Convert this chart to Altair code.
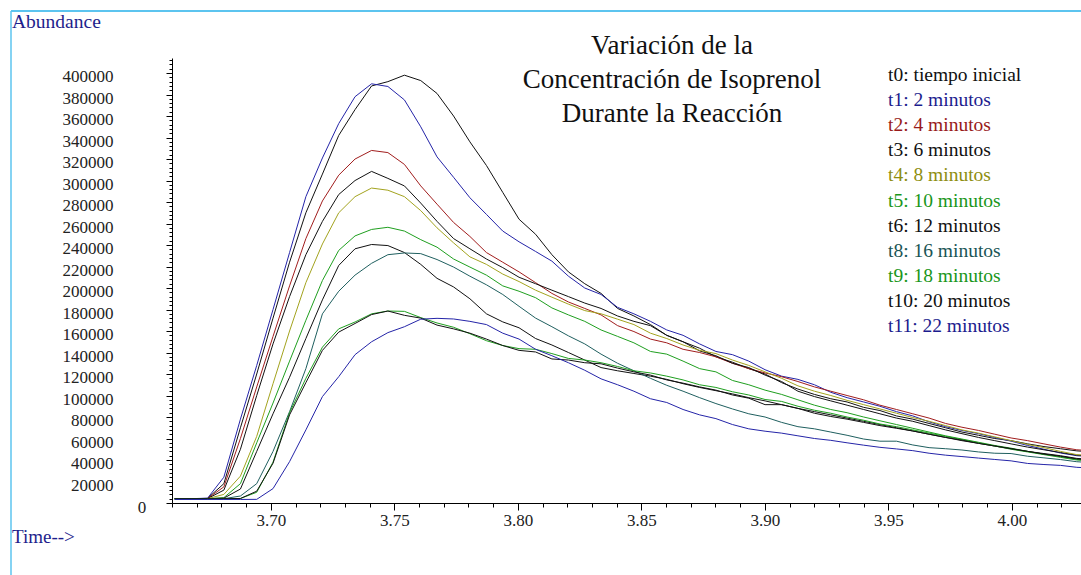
import altair as alt
import pandas as pd

# ---- data (in thousands of abundance units) ----
times = [3.6611, 3.6677, 3.6744, 3.6810, 3.6877, 3.6943, 3.7009, 3.7076, 3.7142, 3.7209,
         3.7275, 3.7341, 3.7408, 3.7474, 3.7541, 3.7607, 3.7673, 3.7740, 3.7806, 3.7873,
         3.7939, 3.8005, 3.8072, 3.8138, 3.8205, 3.8271, 3.8337, 3.8404, 3.8470, 3.8537,
         3.8603, 3.8669, 3.8736, 3.8802, 3.8869, 3.8935, 3.9001, 3.9068, 3.9134, 3.9201,
         3.9267, 3.9333, 3.9400, 3.9466, 3.9533, 3.9599, 3.9665, 3.9732, 3.9798, 3.9865,
         3.9931, 3.9997, 4.0064, 4.0130, 4.0197, 4.0263, 4.0329]

t0 = [4.0, 4.0, 4.3, 18, 70,
      120, 172, 224, 270, 306, 342, 366, 388, 392, 398,
      393, 381, 360, 336, 314, 289, 264, 250, 231, 215,
      204, 195, 181, 174, 166, 156, 150, 144, 136, 131,
      125, 120, 112, 106, 101, 97, 94, 89, 86, 81,
      78, 74, 70, 66, 63, 60, 58, 55, 52.5, 50.5,
      48.5, 47.5]
t1 = [4.0, 4.0, 4.5, 24, 78,
      128, 180, 233, 285, 321, 353, 378, 390, 387.5, 375,
      350, 322, 303, 284, 268.5, 253, 243, 234, 225, 211,
      200, 194, 182, 176, 169, 161, 156, 148, 141, 138,
      132, 124, 118, 115, 110, 103, 98, 94, 90, 85,
      81, 75.5, 71, 67.5, 64.5, 61, 57.5, 53.5, 50, 46.5,
      44, 43]
t2 = [4.0, 4.0, 4.2, 15, 60,
      108, 155, 202, 246, 281, 305, 320, 328, 326, 315,
      295, 278, 261, 248, 233, 224, 215, 205, 195, 187,
      181, 175, 165, 159.5, 152.5, 149, 143, 140, 136, 130,
      125, 121, 117.5, 113, 108, 104, 100, 96, 91, 87,
      83, 79, 74, 70.5, 67.5, 64, 60.5, 58, 55, 52,
      49.5, 48.5]
t3 = [4.0, 4.0, 4.1, 12, 50,
      100, 148, 192, 231, 262, 287, 300, 308.5, 302, 295,
      279, 262, 246, 236.5, 227, 219, 210, 204, 198, 192,
      186, 181, 174, 169, 165, 156, 150, 141.5, 137, 130,
      126, 119, 113, 104, 99, 95, 91, 87, 83, 79,
      76, 72, 68, 64.5, 61, 58, 55, 52, 49.5, 47,
      44.5, 43.5]
t4 = [4.0, 4.0, 4.0, 8, 25,
      62, 111, 160, 205, 241, 270, 285, 293, 291, 285,
      272, 256, 242, 229, 222, 213, 206, 198, 191.5, 185,
      179, 176, 171, 166, 158, 153, 147, 142, 139, 133,
      128, 122, 116, 109, 104, 100, 95.5, 91.5, 87.5, 83.5,
      79.5, 76, 72, 68, 65, 61.5, 58, 54.5, 51.5, 48,
      45, 44]
t5 = [4.0, 4.0, 4.0, 5, 18,
      56, 93, 132, 170, 207, 235, 248.5, 254.5, 256.5, 253,
      245, 238, 227, 219.5, 212, 202, 197, 191, 181.5, 175,
      169, 161, 155, 149, 141, 138.5, 132, 125, 122, 114,
      110, 105, 101, 96, 91, 87, 84, 80, 76.5, 73,
      69.5, 66, 62.5, 59.5, 56.5, 53.5, 51, 48, 45.5, 43,
      40.5, 39.5]
t6 = [4.0, 4.0, 4.0, 4.5, 13,
      48, 83, 117, 153, 189, 221, 236.5, 240.5, 239.5, 233,
      222, 209, 201, 190, 176, 168.5, 163, 153, 147, 140,
      133, 126, 123, 120.5, 118, 115, 111, 107.5, 104.5, 101.5,
      98, 95, 91.5, 88, 85, 82, 79, 76, 73, 70,
      67, 64, 61, 58, 55.5, 53, 50.5, 48, 46, 44,
      41.5, 40.5]
t8 = [4.0, 4.0, 4.0, 4.0, 6.5,
      18, 48, 85, 125, 176, 197, 212, 223, 231, 232.6,
      232, 226.5, 219.5, 211, 203, 194, 183, 172, 164, 155.5,
      148, 138.5, 130, 123, 116, 109.5, 104, 98, 92.5, 87.5,
      83, 80, 75, 71, 69, 66, 63, 59.5, 57.5, 57.5,
      54, 51.5, 50.5, 49.3, 47.5, 46.3, 46, 43.5, 42, 40.4,
      38.4, 37.5]
t9 = [4.0, 4.0, 4.0, 4.0, 4.2,
      10, 38, 84, 116, 145, 162, 168.4, 176, 178.6, 178.3,
      172.5, 167.5, 163.5, 157.5, 151, 146.5, 143.6, 143, 139, 134.5,
      133, 130.5, 127, 123, 121, 118, 114.5, 110, 107.5, 103.5,
      100.5, 96.3, 94.5, 90, 86.3, 83.5, 80, 77, 73.5, 71,
      68, 65, 62, 59, 56, 53, 50, 47.5, 45, 42.5,
      40, 39]
t10 = [4.0, 4.0, 4.0, 4.0, 4.2,
       11, 37, 82, 112, 142, 159, 167, 175.3, 178.6, 174.6,
       172, 165.5, 162, 158, 152.5, 146.5, 142, 140.5, 134, 133,
       130.5, 129.5, 125.5, 122, 119, 114.5, 111.5, 108, 105, 100.5,
       97.5, 91.5, 91.5, 88, 83.5, 80.5, 78, 75, 72, 69.5,
       67, 64, 61, 58.5, 55.5, 53, 50.5, 48, 45.5, 43.5,
       41, 40]
t11 = [3.3, 3.3, 3.3, 3.3, 3.3,
       3.4, 13.4, 38.5, 68, 99, 117.5, 138, 150, 158.5, 164,
       171, 171.8, 171.2, 169, 166, 158, 152.5, 143, 137, 130.5,
       123.5, 115.5, 110, 104, 97, 93.5, 87, 82, 78.5, 73,
       69, 66.8, 65, 62.5, 60, 58.3, 56, 53.8, 51.8, 50.3,
       48.7, 46.3, 44.5, 43.2, 41.8, 40.5, 39.2, 36.8, 35.8, 35,
       33.2, 32.5]

series_names = ["t0", "t1", "t2", "t3", "t4", "t5", "t6", "t8", "t9", "t10", "t11"]
series_values = [t0, t1, t2, t3, t4, t5, t6, t8, t9, t10, t11]
legend_labels = ["t0: tiempo inicial", "t1: 2 minutos", "t2: 4 minutos", "t3: 6 minutos",
                 "t4: 8 minutos", "t5: 10 minutos", "t6: 12 minutos", "t8: 16 minutos",
                 "t9: 18 minutos", "t10: 20 minutos", "t11: 22 minutos"]
line_colors = ["#111111", "#2424a8", "#a11d1d", "#111111", "#a3a31e", "#1f9f1f",
               "#111111", "#1f5f5f", "#1f9f1f", "#111111", "#2424a8"]
text_colors = ["#111111", "#1c1c8e", "#981a1a", "#111111", "#8e8e10", "#1a961a",
               "#111111", "#1a5555", "#1a961a", "#111111", "#1c1c8e"]
title_lines = ["Variación de la", "Concentración de Isoprenol", "Durante la Reacción"]
x_ticks = [3.66, 3.67, 3.68, 3.69, 3.70, 3.71, 3.72, 3.73, 3.74, 3.75, 3.76, 3.77, 3.78,
           3.79, 3.80, 3.81, 3.82, 3.83, 3.84, 3.85, 3.86, 3.87, 3.88, 3.89, 3.90, 3.91,
           3.92, 3.93, 3.94, 3.95, 3.96, 3.97, 3.98, 3.99, 4.00, 4.01, 4.02]
y_ticks = list(range(0, 412001, 4000))

rows = []
for name, vals in zip(series_names, series_values):
    for t, v in zip(times, vals):
        rows.append({"series": name, "t": t, "abundance": v * 1000})
df = pd.DataFrame(rows)
legend_df = pd.DataFrame({"label": legend_labels, "tcolor": text_colors,
                          "idx": list(range(len(legend_labels)))})

FONT = "Liberation Serif"
W, H = 909, 445
NAVY = "#1e1e8c"
FRAME = "#5cc4ef"

x_enc = alt.X("t:Q", scale=alt.Scale(domain=[3.66, 4.028], nice=False, zero=False),
              axis=alt.Axis(values=x_ticks, tickCount=500, title=None, grid=False,
                            labelExpr="(round(datum.value*100) % 5 == 0) ? format(datum.value, '.2f') : ''",
                            tickSize={"condition": {"test": "round(datum.value*100) % 5 == 0", "value": 7}, "value": 4},
                            domainColor="#000000", tickColor="#000000", labelColor="#222222",
                            labelFont=FONT, labelFontSize=17, labelPadding=2,
                            labelOverlap=False, labelFlush=False))
y_enc = alt.Y("abundance:Q", scale=alt.Scale(domain=[0, 414000], nice=False),
              axis=alt.Axis(values=y_ticks, tickCount=1000, title=None, grid=False,
                            labelExpr="(datum.value % 20000 == 0 && datum.value > 0) ? datum.value : ''",
                            tickSize={"condition": {"test": "datum.value % 20000 == 0", "value": 6}, "value": 3},
                            domainColor="#000000", tickColor="#000000", labelColor="#222222",
                            labelFont=FONT, labelFontSize=17, labelPadding=53, labelOffset=3.5,
                            labelOverlap=False, labelFlush=False))

lines = alt.Chart(df).mark_line(strokeWidth=1, clip=True).encode(
    x=x_enc, y=y_enc,
    color=alt.Color("series:N", scale=alt.Scale(domain=series_names, range=line_colors), legend=None),
    detail="series:N",
)
zero_label = alt.Chart(alt.Data(values=[{}])).mark_text(
    font=FONT, fontSize=17, color="#222222", align="center", baseline="middle", dy=5
).encode(x=alt.value(-30), y=alt.datum(0), text=alt.value("0"))

main = alt.layer(lines, zero_label)

legend = alt.Chart(legend_df).mark_text(
    font=FONT, fontSize=19.5, align="left", baseline="middle"
).encode(
    x=alt.value(716),
    y=alt.Y("idx:Q", scale=alt.Scale(domain=[0, 10], range=[17, 268]), axis=None),
    text="label:N",
    fill=alt.Fill("tcolor:N", scale=None),
)

title = alt.Chart(alt.Data(values=[{}])).mark_text(
    font=FONT, fontSize=27, align="center", baseline="middle", lineHeight=34, color="#111111"
).encode(x=alt.value(500), y=alt.value(-12), text=alt.value(title_lines))

abundance = alt.Chart(alt.Data(values=[{}])).mark_text(
    font=FONT, fontSize=19.5, align="left", baseline="middle", color=NAVY
).encode(x=alt.value(-160), y=alt.value(-36), text=alt.value("Abundance"))

time_lbl = alt.Chart(alt.Data(values=[{}])).mark_text(
    font=FONT, fontSize=19, align="left", baseline="middle", color=NAVY
).encode(x=alt.value(-160), y=alt.value(479), text=alt.value("Time-->"))

frame_top = alt.Chart(alt.Data(values=[{}])).mark_rule(color=FRAME, strokeWidth=2).encode(
    x=alt.value(-161), x2=alt.value(W + 20), y=alt.value(-47))
frame_left = alt.Chart(alt.Data(values=[{}])).mark_rule(color=FRAME, strokeWidth=1.5).encode(
    x=alt.value(-161), y=alt.value(-47), y2=alt.value(H + 80))

chart = alt.layer(main, legend, title, abundance, time_lbl, frame_top, frame_left).resolve_scale(
    y="independent"
).properties(
    width=W, height=H,
    autosize=alt.AutoSizeParams(type="none"),
    padding={"left": 172, "top": 58, "right": 0, "bottom": 72},
    background="white",
).configure_view(strokeWidth=0)

chart.save("out.html", embed_options={"renderer": "svg", "actions": False})
